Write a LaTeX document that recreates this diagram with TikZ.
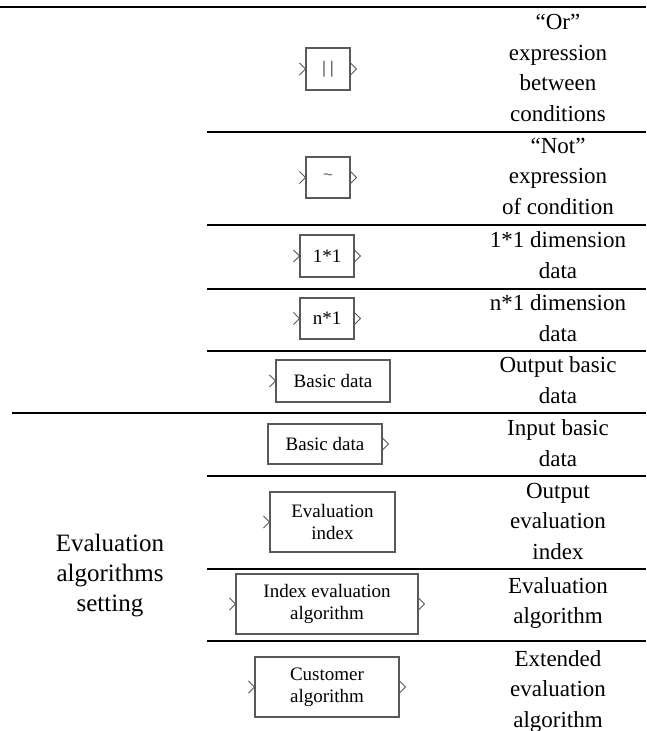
\documentclass[tikz,border=0pt]{standalone}
\usepackage{fontspec}
\setmainfont{Liberation Serif}
\newfontfamily\symfont{Liberation Sans}
\usetikzlibrary{calc}
\newcommand{\lblfont}{\fontsize{23}{30.5}\selectfont}
\newcommand{\grpfont}{\fontsize{25}{30}\selectfont}
\newcommand{\boxfont}{\fontsize{19}{22}\selectfont}
\newcommand{\glyphfont}{\symfont\fontsize{17}{17}\selectfont\color{black!60}}
\begin{document}
\begin{tikzpicture}[x=1pt,y=-1pt,
  rule/.style={line width=2pt,black},
  blk/.style={draw=black!65,line width=1.1pt,inner sep=0pt,align=center,font=\boxfont},
  pin/.style={draw=black!65,line width=0.8pt},
  lbl/.style={align=center,font=\lblfont,inner sep=0pt}]
\useasboundingbox (0,0) rectangle (646,731);

% table rules
\draw[rule] (0,7) -- (646,7);
\draw[rule] (207,132) -- (646,132);
\draw[rule] (207,224.5) -- (646,224.5);
\draw[rule] (207,288.5) -- (646,288.5);
\draw[rule] (207,350.5) -- (646,350.5);
\draw[rule] (12,413) -- (646,413);
\draw[rule] (207,476) -- (646,476);
\draw[rule] (207,568.5) -- (646,568.5);
\draw[rule] (207,641) -- (646,641);

% block symbols
\node[blk,minimum width=44pt,minimum height=42pt] (orb) at (328,69) {\glyphfont |\hspace{3.5pt}|};
\node[blk,minimum width=44pt,minimum height=41pt] (notb) at (328,177.5) {\glyphfont \raisebox{-2pt}{\char`\~}};
\node[blk,minimum width=54pt,minimum height=42pt] (one) at (327,256) {1*1};
\node[blk,minimum width=54pt,minimum height=41pt] (vec) at (327,318.5) {n*1};
\node[blk,minimum width=114pt,minimum height=42pt] (bout) at (333,381) {Basic data};
\node[blk,minimum width=114pt,minimum height=40pt] (bin) at (325,444) {Basic data};
\node[blk,minimum width=125pt,minimum height=60pt] (evi) at (332.5,522) {Evaluation\\index};
\node[blk,minimum width=182pt,minimum height=60pt] (iea) at (327,604) {Index evaluation\\algorithm};
\node[blk,minimum width=144pt,minimum height=60pt] (cus) at (327,687) {Customer\\algorithm};

% input ports
\foreach \b in {orb,notb,one,vec,bout,evi,iea,cus}
  \draw[pin] ($(\b.west)+(-6,-6)$) -- (\b.west) -- ($(\b.west)+(-6,6)$);
% output ports
\foreach \b in {orb,notb,one,vec,bin,iea,cus}
  \draw[pin] ($(\b.east)+(0,-6)$) -- ($(\b.east)+(6,0)$) -- ($(\b.east)+(0,6)$);

% descriptions
\node[lbl] (dor) at (558,68) {“Or”\\expression\\between\\conditions};
\node[lbl] (dnot) at (558,176) {“Not”\\expression\\of condition};
\node[lbl] (done) at (558,255) {1*1 dimension\\data};
\node[lbl] (dvec) at (558,318) {n*1 dimension\\data};
\node[lbl] (dbout) at (558,380) {Output basic\\data};
\node[lbl] (dbin) at (558,443) {Input basic\\data};
\node[lbl] (devi) at (558,521) {Output\\evaluation\\index};
\node[lbl] (diea) at (558,603) {Evaluation\\algorithm};
\node[lbl] (dcus) at (558,691) {Extended\\evaluation\\algorithm};

% group label
\node[lbl,font=\grpfont] (grp) at (110,576) {Evaluation\\algorithms\\setting};
\end{tikzpicture}
\end{document}
